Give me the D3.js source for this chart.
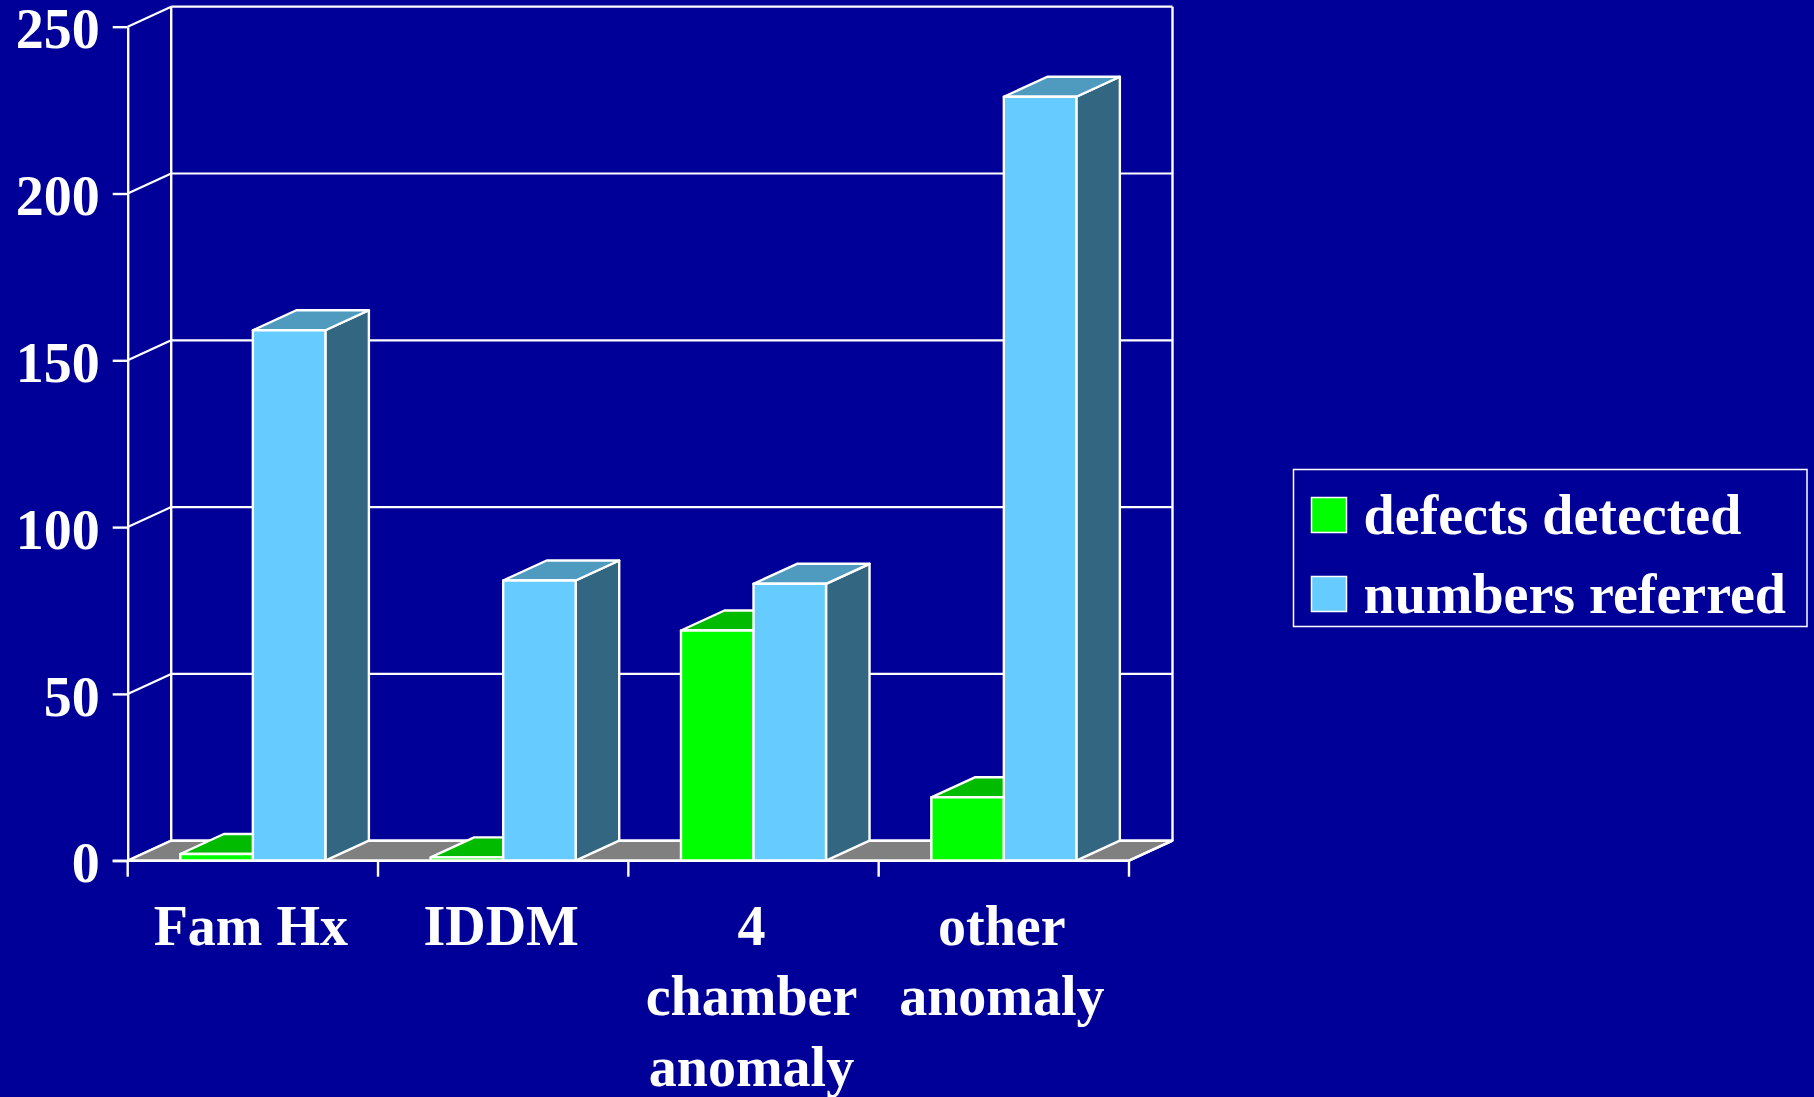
<!DOCTYPE html>
<html>
<head>
<meta charset="utf-8">
<script src="https://cdn.jsdelivr.net/npm/d3@7"></script>
<style>
  html, body { margin: 0; padding: 0; background: #000099; }
  svg { display: block; }
  text { font-family: "Liberation Serif", "Times New Roman", serif; font-weight: bold; fill: #ffffff; }
</style>
</head>
<body>
<script>
// Categories, with the line breaks used for their labels
const categories = ["Fam Hx", "IDDM", "4 chamber anomaly", "other anomaly"];
const categoryLines = [["Fam Hx"], ["IDDM"], ["4", "chamber", "anomaly"], ["other", "anomaly"]];

// Series names and values
const series = ["defects detected", "numbers referred"];
const defectsDetected = [2, 1, 69, 19];
const numbersReferred = [159, 84, 83, 229];

// Value axis ticks
const yTicks = [0, 50, 100, 150, 200, 250];

// Face colours per series: front, top, side
const faceColors = {
  "defects detected": { front: "#00ff00", top: "#00bb00", side: "#008800" },
  "numbers referred": { front: "#66ccff", top: "#4f9bc0", side: "#336680" }
};

const W = 1814, H = 1097;
const svg = d3.select("body").append("svg")
  .attr("width", W).attr("height", H)
  .style("background", "#000099");

// Pseudo-3D depth offset of the back wall
const dx = 43.5, dy = -20;
const xLeft = 127.7, xRight = 1129;
const lw = 2.4;

const x0 = d3.scaleBand().domain(categories).range([xLeft, xRight]).paddingInner(0).paddingOuter(0);
const x1 = d3.scaleBand().domain(series).range([0, x0.bandwidth()]).paddingInner(0).paddingOuter(0.726);
const y = d3.scaleLinear().domain([0, 250]).range([860.7, 26.7]);

const valuesBySeries = { "defects detected": defectsDetected, "numbers referred": numbersReferred };

const line = (g, x1p, y1p, x2p, y2p, w) => g.append("line")
  .attr("x1", x1p).attr("y1", y1p).attr("x2", x2p).attr("y2", y2p)
  .attr("stroke", "#ffffff").attr("stroke-width", w || lw);

// Back wall and left wall
const walls = svg.append("g");
yTicks.forEach(t => {
  line(walls, xLeft + dx, y(t) + dy, xRight + dx, y(t) + dy, 2.2);
  line(walls, xLeft, y(t), xLeft + dx, y(t) + dy, 2.2);
});
line(walls, xLeft + dx, y(0) + dy, xLeft + dx, y(250) + dy);
line(walls, xRight + dx, y(0) + dy, xRight + dx, y(250) + dy);

// Floor
svg.append("polygon")
  .attr("points", [[xLeft, y(0)], [xRight, y(0)], [xRight + dx, y(0) + dy], [xLeft + dx, y(0) + dy]].map(p => p.join(",")).join(" "))
  .attr("fill", "#808080").attr("stroke", "#ffffff").attr("stroke-width", lw).attr("stroke-linejoin", "round");

// Bars
const bars = svg.append("g");
categories.forEach((c, i) => {
  series.forEach(s => {
    const v = valuesBySeries[s][i];
    const bx = x0(c) + x1(s), bw = x1.bandwidth();
    const top = y(v), base = y(0);
    const col = faceColors[s];
    const g = bars.append("g")
      .attr("stroke", "#ffffff").attr("stroke-width", lw).attr("stroke-linejoin", "round");
    g.append("polygon")
      .attr("points", [[bx + bw, top], [bx + bw + dx, top + dy], [bx + bw + dx, base + dy], [bx + bw, base]].map(p => p.join(",")).join(" "))
      .attr("fill", col.side);
    g.append("polygon")
      .attr("points", [[bx, top], [bx + bw, top], [bx + bw + dx, top + dy], [bx + dx, top + dy]].map(p => p.join(",")).join(" "))
      .attr("fill", col.top);
    g.append("rect")
      .attr("x", bx).attr("y", top).attr("width", bw).attr("height", base - top)
      .attr("fill", col.front);
  });
});

// Value axis
const yAxis = svg.append("g")
  .attr("transform", `translate(${xLeft},0)`)
  .call(d3.axisLeft(y).tickValues(yTicks).tickSize(15).tickSizeOuter(0).tickPadding(13));
yAxis.select(".domain").attr("stroke", "#ffffff").attr("stroke-width", lw);
yAxis.selectAll(".tick line").attr("stroke", "#ffffff").attr("stroke-width", lw);
yAxis.selectAll(".tick text")
  .attr("dy", "0.38em")
  .style("font-family", '"Liberation Serif", "Times New Roman", serif')
  .style("font-weight", "bold")
  .style("font-size", "56px")
  .attr("fill", "#ffffff");

// Category axis line and ticks at band edges
const xAx = svg.append("g");
line(xAx, xLeft - 15, y(0), xRight, y(0));
line(xAx, xRight, y(0), xRight + dx, y(0) + dy);
d3.range(categories.length + 1).forEach(k => {
  const xp = xLeft + k * x0.step();
  line(xAx, xp, y(0), xp, y(0) + 16);
});

// Category labels
categories.forEach((c, i) => {
  const t = svg.append("text")
    .attr("text-anchor", "middle")
    .attr("font-size", 56);
  categoryLines[i].forEach((ln, j) => {
    t.append("tspan")
      .attr("x", x0(c) + x0.bandwidth() / 2 - 2)
      .attr("y", y(0) + 84 + j * 70.5)
      .text(ln);
  });
});

// Legend
const legend = svg.append("g").attr("transform", "translate(1293.5,469.5)");
legend.append("rect")
  .attr("width", 513.5).attr("height", 157)
  .attr("fill", "none").attr("stroke", "#ffffff").attr("stroke-width", 1.5);
series.forEach((s, k) => {
  const row = legend.append("g").attr("transform", `translate(0,${28 + k * 79})`);
  row.append("rect")
    .attr("x", 18).attr("y", 0).attr("width", 35).attr("height", 35)
    .attr("fill", faceColors[s].front).attr("stroke", "#ffffff").attr("stroke-width", 1.5);
  row.append("text")
    .attr("x", 70).attr("y", 36.5)
    .attr("font-size", 56)
    .text(s);
});
</script>
</body>
</html>
